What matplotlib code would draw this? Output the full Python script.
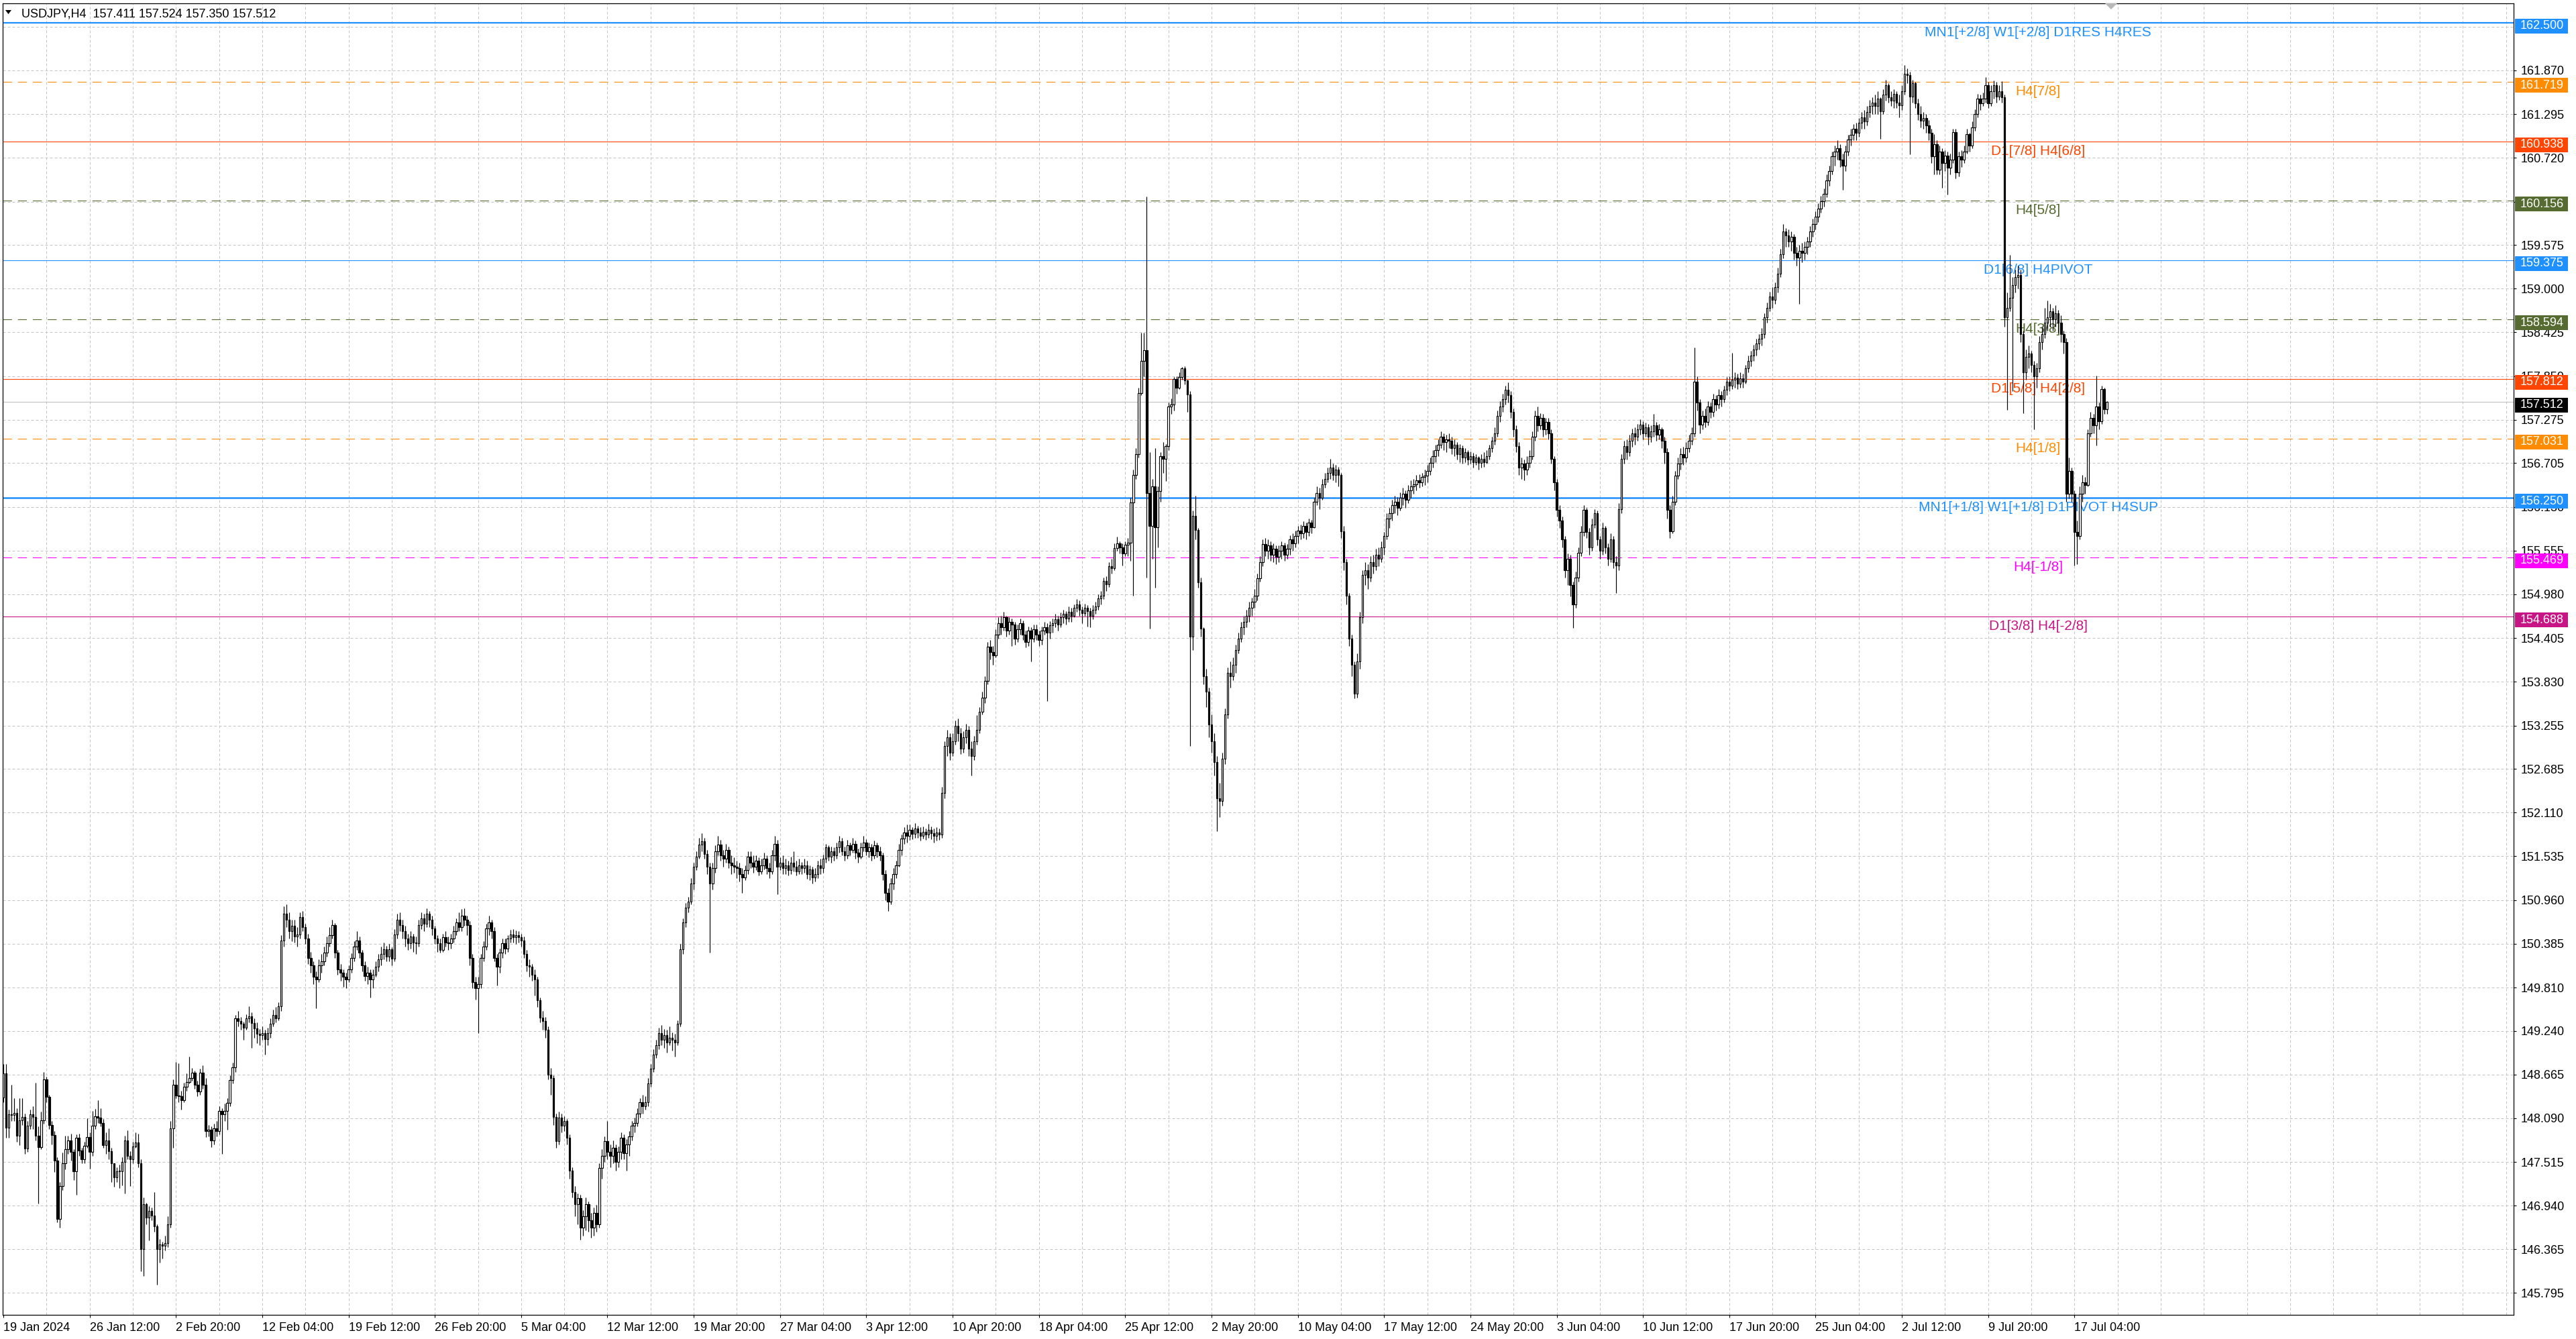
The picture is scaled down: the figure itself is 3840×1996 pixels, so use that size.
import numpy as np
import matplotlib
matplotlib.use("Agg")
import matplotlib.pyplot as plt
from matplotlib import transforms
from matplotlib.patches import Rectangle, Polygon

# USDJPY H4 candles (open of each bar = previous close)
first_open = 148.36

close = [
    148.68, 147.97, 148.14, 148.13, 148.16, 147.86, 148.06, 148.11, 147.69, 147.99, 148.14, 148.11, 147.86, 147.71, 148.06, 148.60,
    148.37, 148.00, 147.87, 147.53, 146.77, 147.20, 147.50, 147.68, 147.80, 147.65, 147.39, 147.83, 147.67, 147.55, 147.73, 147.84,
    147.65, 147.99, 148.12, 148.10, 148.03, 147.74, 147.80, 147.66, 147.50, 147.31, 147.39, 147.39, 147.52, 147.80, 147.60, 147.55,
    147.72, 147.77, 147.50, 146.37, 146.96, 146.78, 146.87, 146.81, 146.67, 146.37, 146.43, 146.41, 146.45, 146.70, 147.96, 148.53,
    148.39, 148.38, 148.33, 148.50, 148.57, 148.62, 148.69, 148.53, 148.44, 148.69, 148.53, 147.92, 147.94, 147.80, 147.96, 147.92,
    148.19, 148.14, 148.19, 148.29, 148.59, 148.76, 149.40, 149.37, 149.33, 149.28, 149.40, 149.43, 149.34, 149.27, 149.20, 149.18,
    149.21, 149.13, 149.21, 149.33, 149.45, 149.40, 149.56, 150.43, 150.78, 150.70, 150.55, 150.62, 150.48, 150.51, 150.74, 150.60,
    150.45, 150.20, 150.10, 149.95, 149.92, 150.10, 150.15, 150.27, 150.39, 150.50, 150.63, 150.27, 150.05, 150.00, 149.95, 149.92,
    150.05, 150.20, 150.35, 150.43, 150.27, 150.10, 149.96, 150.00, 149.92, 149.98, 150.08, 150.18, 150.25, 150.31, 150.22, 150.31,
    150.19, 150.51, 150.70, 150.63, 150.55, 150.45, 150.39, 150.48, 150.40, 150.39, 150.63, 150.72, 150.65, 150.78, 150.70, 150.59,
    150.45, 150.39, 150.30, 150.47, 150.40, 150.39, 150.45, 150.55, 150.67, 150.60, 150.75, 150.70, 150.63, 150.20, 149.88, 149.80,
    149.85, 150.20, 150.35, 150.59, 150.67, 150.55, 150.20, 150.08, 150.27, 150.39, 150.32, 150.45, 150.51, 150.47, 150.50, 150.47,
    150.43, 150.25, 150.10, 150.08, 149.98, 149.92, 149.64, 149.41, 149.37, 149.25, 148.66, 148.62, 148.11, 147.79, 148.10, 147.99,
    148.05, 147.83, 147.40, 147.12, 146.96, 147.04, 146.65, 146.80, 146.96, 146.75, 146.65, 146.85, 146.70, 147.44, 147.60, 147.79,
    147.65, 147.60, 147.70, 147.52, 147.65, 147.83, 147.63, 147.75, 147.85, 147.99, 148.03, 148.15, 148.30, 148.25, 148.30, 148.55,
    148.74, 148.93, 149.05, 149.21, 149.12, 149.18, 149.09, 149.15, 149.12, 149.09, 149.33, 150.31, 150.67, 150.86, 150.94, 151.18,
    151.40, 151.53, 151.69, 151.73, 151.57, 151.40, 151.18, 151.38, 151.60, 151.69, 151.55, 151.50, 151.62, 151.45, 151.42, 151.40,
    151.38, 151.30, 151.26, 151.35, 151.53, 151.45, 151.40, 151.48, 151.34, 151.42, 151.50, 151.38, 151.34, 151.55, 151.70, 151.40,
    151.45, 151.38, 151.42, 151.35, 151.45, 151.40, 151.34, 151.42, 151.38, 151.42, 151.30, 151.36, 151.26, 151.30, 151.42, 151.38,
    151.50, 151.65, 151.53, 151.60, 151.55, 151.65, 151.73, 151.60, 151.55, 151.68, 151.62, 151.70, 151.58, 151.53, 151.65, 151.72,
    151.60, 151.65, 151.55, 151.68, 151.60, 151.55, 151.30, 151.05, 150.94, 151.18, 151.30, 151.42, 151.62, 151.77, 151.85, 151.80,
    151.88, 151.83, 151.90, 151.85, 151.80, 151.86, 151.82, 151.88, 151.84, 151.80, 151.85, 151.82, 152.37, 152.99, 153.10, 152.90,
    153.05, 153.25, 153.15, 152.95, 153.10, 153.20, 152.95, 152.85, 153.05, 153.20, 153.44, 153.62, 153.84, 154.29, 154.22, 154.18,
    154.45, 154.60, 154.55, 154.68, 154.50, 154.62, 154.58, 154.40, 154.52, 154.60, 154.45, 154.35, 154.50, 154.40, 154.52, 154.45,
    154.38, 154.50, 154.55, 154.48, 154.57, 154.60, 154.65, 154.58, 154.68, 154.72, 154.66, 154.75, 154.70, 154.80, 154.85, 154.78,
    154.73, 154.80, 154.76, 154.70, 154.78, 154.82, 154.93, 154.96, 155.16, 155.11, 155.35, 155.32, 155.59, 155.65, 155.60, 155.52,
    155.63, 155.66, 156.19, 156.55, 156.82, 157.63, 158.05, 158.19, 156.31, 155.88, 156.40, 155.86, 156.34, 156.80, 156.76, 156.93,
    157.45, 157.48, 157.81, 157.70, 157.84, 157.95, 157.79, 157.61, 154.42, 156.01, 155.83, 155.14, 154.53, 153.90, 153.70, 153.27,
    153.05, 152.77, 152.30, 152.26, 152.82, 153.40, 153.95, 153.90, 154.05, 154.25, 154.40, 154.55, 154.62, 154.70, 154.80, 154.88,
    154.96, 155.19, 155.40, 155.64, 155.55, 155.62, 155.50, 155.58, 155.47, 155.55, 155.62, 155.50, 155.58, 155.70, 155.65, 155.75,
    155.82, 155.78, 155.88, 155.80, 155.92, 155.86, 156.20, 156.31, 156.25, 156.43, 156.50, 156.58, 156.65, 156.55, 156.62, 156.55,
    155.81, 155.40, 154.96, 154.40, 154.05, 153.67, 154.10, 154.68, 155.24, 155.30, 155.20, 155.40, 155.35, 155.50, 155.45, 155.60,
    155.75, 155.98, 156.05, 156.15, 156.20, 156.12, 156.25, 156.30, 156.22, 156.35, 156.40, 156.43, 156.48, 156.45, 156.52, 156.54,
    156.60, 156.71, 156.80, 156.88, 156.95, 157.05, 156.98, 157.02, 157.00, 156.90, 156.95, 156.82, 156.90, 156.78, 156.85, 156.75,
    156.80, 156.72, 156.78, 156.71, 156.76, 156.72, 156.80, 156.90, 157.00, 157.10, 157.33, 157.45, 157.55, 157.67, 157.60, 157.38,
    157.15, 156.93, 156.65, 156.70, 156.62, 156.71, 156.80, 157.05, 157.33, 157.20, 157.30, 157.15, 157.25, 157.10, 156.76, 156.45,
    156.09, 155.95, 155.70, 155.30, 155.45, 155.10, 154.85, 155.20, 155.53, 155.80, 156.09, 155.80, 155.60, 155.90, 156.05, 155.70,
    155.55, 155.85, 155.60, 155.45, 155.70, 155.40, 155.36, 156.10, 156.76, 156.93, 156.85, 157.00, 157.10, 157.05, 157.15, 157.21,
    157.10, 157.18, 157.05, 157.12, 157.20, 157.08, 157.15, 157.00, 156.85, 156.09, 155.81, 156.20, 156.54, 156.70, 156.82, 156.78,
    156.90, 157.00, 157.10, 157.78, 157.50, 157.21, 157.33, 157.25, 157.45, 157.38, 157.55, 157.48, 157.60, 157.55, 157.67, 157.78,
    157.72, 157.80, 157.83, 157.75, 157.82, 157.78, 157.95, 158.05, 158.12, 158.20, 158.28, 158.34, 158.40, 158.62, 158.75, 158.90,
    158.85, 159.02, 159.20, 159.45, 159.75, 159.70, 159.62, 159.68, 159.47, 159.41, 159.50, 159.47, 159.55, 159.62, 159.75, 159.85,
    159.95, 160.05, 160.15, 160.25, 160.42, 160.55, 160.74, 160.80, 160.85, 160.70, 160.62, 160.80, 160.96, 161.02, 161.10, 161.05,
    161.18, 161.25, 161.20, 161.32, 161.40, 161.45, 161.40, 161.50, 161.33, 161.55, 161.68, 161.52, 161.47, 161.56, 161.45, 161.41,
    161.60, 161.83, 161.81, 161.53, 161.70, 161.44, 161.30, 161.21, 161.24, 161.15, 161.05, 160.74, 160.90, 160.56, 160.80, 160.65,
    160.75, 160.59, 160.70, 161.06, 160.53, 160.74, 160.70, 160.80, 161.03, 160.88, 161.12, 161.30, 161.50, 161.44, 161.50, 161.68,
    161.44, 161.60, 161.68, 161.53, 161.60, 161.52, 158.62, 158.75, 158.88, 159.05, 159.15, 159.18, 158.40, 157.90, 158.10, 158.15,
    158.00, 157.85, 157.95, 158.30, 158.40, 158.55, 158.62, 158.70, 158.60, 158.68, 158.55, 158.40, 158.30, 156.30, 156.60, 156.30,
    155.80, 155.75, 156.30, 156.45, 156.42, 157.10, 157.30, 157.20, 157.45, 157.26, 157.68, 157.411, 157.512,
]

high = [
    148.80, 148.80, 148.20, 148.53, 148.35, 148.22, 148.35, 148.35, 148.15, 148.05, 148.20, 148.25, 148.56, 147.98, 148.18, 148.70,
    148.64, 148.40, 148.05, 147.92, 147.58, 147.25, 147.64, 147.86, 147.86, 147.89, 147.68, 147.88, 147.89, 147.70, 147.78, 148.09,
    147.90, 148.19, 148.21, 148.33, 148.22, 148.08, 147.90, 147.96, 147.70, 147.50, 147.45, 147.48, 147.58, 147.86, 147.93, 147.66,
    147.78, 147.90, 147.89, 147.55, 147.05, 146.98, 146.93, 146.92, 147.12, 146.70, 146.50, 146.47, 146.55, 146.80, 148.05, 148.60,
    148.83, 148.81, 148.45, 148.56, 148.68, 148.90, 148.75, 148.72, 148.58, 148.74, 148.79, 148.62, 148.00, 147.98, 148.02, 148.05,
    148.25, 148.22, 148.28, 148.35, 148.65, 148.82, 149.45, 149.50, 149.42, 149.36, 149.46, 149.56, 149.48, 149.40, 149.35, 149.26,
    149.30, 149.25, 149.28, 149.40, 149.52, 149.55, 149.62, 150.50, 150.88, 150.90, 150.80, 150.70, 150.70, 150.60, 150.80, 150.82,
    150.65, 150.52, 150.28, 150.15, 150.02, 150.18, 150.25, 150.35, 150.48, 150.60, 150.70, 150.66, 150.30, 150.12, 150.05, 150.00,
    150.10, 150.26, 150.42, 150.55, 150.48, 150.30, 150.15, 150.08, 150.05, 150.05, 150.15, 150.25, 150.35, 150.40, 150.36, 150.38,
    150.34, 150.58, 150.78, 150.80, 150.70, 150.62, 150.52, 150.55, 150.52, 150.48, 150.70, 150.80, 150.78, 150.85, 150.82, 150.75,
    150.62, 150.50, 150.45, 150.52, 150.55, 150.48, 150.52, 150.62, 150.72, 150.80, 150.84, 150.85, 150.75, 150.68, 150.25, 149.95,
    149.95, 150.25, 150.42, 150.65, 150.75, 150.70, 150.60, 150.25, 150.32, 150.45, 150.45, 150.50, 150.57, 150.58, 150.56, 150.55,
    150.52, 150.48, 150.30, 150.18, 150.12, 150.05, 149.95, 149.68, 149.50, 149.42, 149.30, 148.75, 148.65, 148.15, 148.18, 148.15,
    148.12, 148.08, 147.88, 147.45, 147.20, 147.10, 147.08, 146.88, 147.05, 147.00, 146.85, 146.92, 146.95, 147.50, 147.68, 147.85,
    148.05, 147.75, 147.80, 147.75, 147.72, 147.90, 147.88, 147.82, 147.92, 148.05, 148.10, 148.22, 148.35, 148.40, 148.38, 148.62,
    148.80, 149.00, 149.12, 149.28, 149.32, 149.26, 149.25, 149.30, 149.22, 149.20, 149.38, 150.38, 150.72, 150.92, 151.00, 151.25,
    151.45, 151.60, 151.78, 151.84, 151.78, 151.62, 151.45, 151.45, 151.68, 151.80, 151.75, 151.62, 151.70, 151.66, 151.55, 151.52,
    151.48, 151.45, 151.38, 151.42, 151.60, 151.60, 151.55, 151.55, 151.52, 151.50, 151.58, 151.55, 151.45, 151.62, 151.80, 151.75,
    151.52, 151.55, 151.50, 151.48, 151.53, 151.60, 151.48, 151.50, 151.46, 151.50, 151.48, 151.42, 151.40, 151.38, 151.48, 151.50,
    151.56, 151.70, 151.68, 151.66, 151.65, 151.72, 151.80, 151.78, 151.66, 151.75, 151.72, 151.78, 151.74, 151.64, 151.72, 151.80,
    151.76, 151.72, 151.70, 151.74, 151.72, 151.66, 151.58, 151.35, 151.12, 151.25, 151.38, 151.48, 151.70, 151.82, 151.92, 151.95,
    151.95, 151.92, 151.97, 151.94, 151.92, 151.93, 151.90, 151.96, 151.93, 151.90, 151.92, 151.90, 152.45, 153.05, 153.20, 153.15,
    153.15, 153.32, 153.35, 153.22, 153.18, 153.28, 153.25, 153.05, 153.12, 153.39, 153.50, 153.70, 153.90, 154.35, 154.38, 154.30,
    154.52, 154.68, 154.70, 154.75, 154.70, 154.68, 154.66, 154.62, 154.58, 154.66, 154.64, 154.50, 154.56, 154.55, 154.58, 154.58,
    154.50, 154.56, 154.62, 154.60, 154.63, 154.66, 154.72, 154.70, 154.74, 154.78, 154.76, 154.82, 154.80, 154.85, 154.92, 154.90,
    154.82, 154.86, 154.84, 154.80, 154.84, 154.88, 154.98, 155.02, 155.20, 155.22, 155.40, 155.45, 155.65, 155.74, 155.68, 155.65,
    155.68, 155.72, 156.25, 156.62, 156.90, 157.70, 158.42, 158.42, 160.21, 156.85, 156.50, 156.90, 156.40, 156.85, 156.98, 156.96,
    157.50, 157.56, 157.84, 157.85, 157.90, 157.97, 157.98, 157.80, 157.65, 156.08, 156.28, 155.85, 155.20, 154.55, 154.00, 153.75,
    153.40, 153.15, 152.85, 152.50, 152.90, 153.48, 154.02, 154.10, 154.15, 154.32, 154.48, 154.62, 154.70, 154.78, 154.88, 154.94,
    155.05, 155.25, 155.48, 155.70, 155.72, 155.70, 155.68, 155.65, 155.62, 155.62, 155.68, 155.66, 155.64, 155.76, 155.78, 155.82,
    155.88, 155.90, 155.94, 155.92, 155.98, 155.96, 156.25, 156.40, 156.38, 156.50, 156.58, 156.65, 156.76, 156.70, 156.68, 156.66,
    156.58, 155.88, 155.45, 155.00, 154.45, 154.10, 154.20, 154.75, 155.30, 155.40, 155.38, 155.48, 155.50, 155.58, 155.60, 155.68,
    155.80, 156.05, 156.12, 156.22, 156.28, 156.26, 156.32, 156.38, 156.35, 156.42, 156.48, 156.50, 156.55, 156.56, 156.58, 156.62,
    156.68, 156.78, 156.88, 156.95, 157.02, 157.12, 157.10, 157.08, 157.10, 157.05, 157.02, 156.98, 156.96, 156.94, 156.90, 156.88,
    156.86, 156.84, 156.82, 156.80, 156.82, 156.85, 156.88, 156.95, 157.05, 157.18, 157.40, 157.52, 157.62, 157.72, 157.77, 157.65,
    157.42, 157.20, 156.98, 156.78, 156.75, 156.80, 156.88, 157.12, 157.40, 157.45, 157.36, 157.35, 157.30, 157.30, 157.15, 156.80,
    156.50, 156.15, 156.00, 155.75, 155.52, 155.50, 155.15, 155.28, 155.60, 155.88, 156.15, 156.12, 155.85, 155.98, 156.10, 156.08,
    155.75, 155.92, 155.88, 155.65, 155.78, 155.75, 155.48, 156.18, 156.82, 157.00, 157.02, 157.08, 157.16, 157.18, 157.22, 157.28,
    157.26, 157.24, 157.22, 157.20, 157.35, 157.25, 157.22, 157.18, 157.05, 156.90, 156.15, 156.28, 156.60, 156.78, 156.90, 156.92,
    156.98, 157.08, 157.18, 158.23, 157.85, 157.55, 157.40, 157.42, 157.52, 157.50, 157.62, 157.60, 157.68, 157.65, 157.72, 157.84,
    157.85, 158.16, 157.90, 157.88, 157.90, 157.88, 158.00, 158.12, 158.18, 158.26, 158.34, 158.40, 158.48, 158.68, 158.82, 158.96,
    159.02, 159.08, 159.28, 159.52, 159.85, 159.80, 159.78, 159.75, 159.72, 159.55, 159.58, 159.60, 159.62, 159.68, 159.82, 159.92,
    160.02, 160.12, 160.22, 160.32, 160.50, 160.62, 160.80, 160.88, 160.95, 160.90, 160.78, 160.88, 161.02, 161.10, 161.16, 161.18,
    161.24, 161.32, 161.35, 161.40, 161.48, 161.52, 161.55, 161.60, 161.52, 161.62, 161.75, 161.70, 161.60, 161.62, 161.60, 161.55,
    161.68, 161.94, 161.90, 161.85, 161.75, 161.72, 161.50, 161.40, 161.32, 161.30, 161.22, 161.10, 161.03, 160.95, 160.88, 160.85,
    160.82, 160.80, 160.78, 161.10, 161.10, 160.80, 160.82, 160.88, 161.10, 161.05, 161.20, 161.36, 161.56, 161.55, 161.58, 161.78,
    161.72, 161.68, 161.74, 161.72, 161.68, 161.73, 161.55, 158.95, 159.44, 159.15, 159.25, 159.30, 159.25, 158.45, 158.20, 158.25,
    158.18, 158.05, 158.02, 158.38, 158.50, 158.75, 158.84, 158.80, 158.75, 158.78, 158.72, 158.65, 158.45, 158.35, 156.78, 156.65,
    156.35, 155.95, 156.40, 156.55, 156.52, 157.15, 157.38, 157.35, 157.86, 157.50, 157.72, 157.70, 157.524,
]

low = [
    148.30, 147.83, 147.83, 148.05, 148.05, 147.78, 147.74, 148.00, 147.62, 147.65, 147.95, 147.95, 147.80, 146.97, 147.68, 148.02,
    148.30, 147.95, 147.75, 147.38, 146.72, 146.65, 147.15, 147.42, 147.62, 147.53, 147.28, 147.08, 147.60, 147.50, 147.50, 147.70,
    147.43, 147.60, 147.95, 148.03, 147.98, 147.70, 147.62, 147.55, 147.25, 147.19, 147.25, 147.17, 147.21, 147.10, 147.55, 147.20,
    147.50, 147.70, 147.45, 146.08, 146.02, 146.70, 146.48, 146.75, 146.60, 145.90, 146.19, 146.25, 146.35, 146.40, 146.65, 147.70,
    148.35, 148.30, 148.20, 148.30, 148.45, 148.55, 148.58, 148.48, 148.38, 148.40, 148.48, 147.84, 147.85, 147.71, 147.75, 147.85,
    147.88, 147.62, 148.05, 147.94, 148.25, 148.55, 148.70, 149.30, 149.25, 149.12, 149.25, 149.35, 149.02, 149.15, 149.08, 149.05,
    149.12, 148.93, 149.05, 149.15, 149.30, 149.35, 149.38, 149.50, 150.35, 150.60, 150.45, 150.42, 150.40, 150.35, 150.45, 150.55,
    150.38, 150.12, 150.00, 149.85, 149.54, 149.88, 150.00, 150.10, 150.22, 150.35, 150.45, 150.20, 149.98, 149.90, 149.82, 149.80,
    149.88, 150.00, 150.15, 150.30, 150.20, 150.02, 149.90, 149.85, 149.68, 149.80, 149.95, 150.02, 150.10, 150.18, 150.15, 150.15,
    150.10, 150.15, 150.45, 150.55, 150.45, 150.35, 150.30, 150.32, 150.28, 150.25, 150.35, 150.58, 150.55, 150.60, 150.60, 150.50,
    150.38, 150.28, 150.27, 150.28, 150.35, 150.30, 150.32, 150.40, 150.50, 150.55, 150.55, 150.62, 150.50, 150.10, 149.80, 149.65,
    149.21, 149.80, 150.15, 150.30, 150.50, 150.45, 150.15, 149.84, 150.00, 150.20, 150.25, 150.28, 150.40, 150.40, 150.38, 150.40,
    150.35, 150.20, 150.02, 149.95, 149.90, 149.70, 149.55, 149.35, 149.25, 149.15, 148.60, 148.40, 148.00, 147.70, 147.75, 147.90,
    147.92, 147.75, 147.30, 147.05, 146.80, 146.70, 146.49, 146.55, 146.62, 146.60, 146.52, 146.55, 146.60, 146.65, 147.30, 147.52,
    147.55, 147.45, 147.50, 147.40, 147.45, 147.55, 147.55, 147.40, 147.60, 147.80, 147.90, 147.98, 148.10, 148.15, 148.20, 148.25,
    148.50, 148.70, 148.88, 149.00, 149.05, 149.02, 148.95, 149.05, 148.98, 148.90, 149.05, 149.30, 150.25, 150.60, 150.80, 150.90,
    151.10, 151.35, 151.50, 151.60, 151.50, 151.30, 150.27, 151.10, 151.32, 151.55, 151.48, 151.40, 151.45, 151.38, 151.30, 151.32,
    151.25, 151.20, 151.05, 151.22, 151.30, 151.38, 151.32, 151.35, 151.28, 151.30, 151.36, 151.30, 151.25, 151.30, 151.48, 151.04,
    151.35, 151.30, 151.30, 151.28, 151.30, 151.34, 151.28, 151.30, 151.30, 151.32, 151.24, 151.22, 151.18, 151.20, 151.25, 151.30,
    151.32, 151.45, 151.48, 151.45, 151.48, 151.50, 151.58, 151.55, 151.48, 151.50, 151.55, 151.58, 151.50, 151.45, 151.50, 151.60,
    151.55, 151.52, 151.48, 151.50, 151.52, 151.48, 151.22, 150.96, 150.82, 150.90, 151.10, 151.25, 151.40, 151.55, 151.70, 151.72,
    151.75, 151.76, 151.78, 151.78, 151.74, 151.77, 151.75, 151.78, 151.76, 151.72, 151.74, 151.75, 151.78, 152.30, 152.85, 152.80,
    152.85, 153.00, 153.05, 152.88, 152.90, 153.02, 152.85, 152.60, 152.80, 153.00, 153.15, 153.40, 153.55, 153.80, 154.12, 154.05,
    154.15, 154.40, 154.45, 154.50, 154.42, 154.45, 154.30, 154.32, 154.35, 154.45, 154.38, 154.28, 154.30, 154.10, 154.35, 154.38,
    154.30, 154.32, 154.45, 153.58, 154.40, 154.48, 154.55, 154.50, 154.55, 154.60, 154.58, 154.62, 154.62, 154.68, 154.75, 154.70,
    154.60, 154.70, 154.56, 154.55, 154.65, 154.72, 154.78, 154.85, 154.92, 155.02, 155.08, 155.25, 155.30, 155.55, 155.52, 155.36,
    155.48, 155.48, 155.42, 154.96, 156.50, 156.78, 157.60, 157.85, 155.20, 154.53, 155.45, 155.07, 155.60, 156.20, 156.58, 156.47,
    156.88, 157.35, 157.40, 157.62, 157.68, 157.80, 157.74, 157.38, 152.99, 154.25, 155.70, 155.07, 154.42, 153.80, 153.50, 153.10,
    152.90, 152.60, 151.87, 152.05, 152.20, 152.75, 153.35, 153.75, 153.85, 153.95, 154.20, 154.35, 154.45, 154.55, 154.62, 154.70,
    154.80, 154.90, 155.15, 155.35, 155.48, 155.45, 155.42, 155.40, 155.38, 155.40, 155.45, 155.42, 155.45, 155.50, 155.55, 155.60,
    155.65, 155.70, 155.72, 155.70, 155.75, 155.78, 155.85, 156.15, 156.10, 156.22, 156.38, 156.45, 156.50, 156.48, 156.45, 156.40,
    155.72, 155.30, 154.85, 154.30, 153.90, 153.61, 153.62, 154.00, 154.60, 155.10, 155.05, 155.15, 155.25, 155.30, 155.35, 155.40,
    155.50, 155.70, 155.85, 155.95, 156.05, 156.02, 156.08, 156.15, 156.12, 156.18, 156.25, 156.30, 156.35, 156.38, 156.40, 156.42,
    156.45, 156.55, 156.65, 156.72, 156.80, 156.90, 156.88, 156.85, 156.90, 156.82, 156.80, 156.75, 156.72, 156.70, 156.72, 156.68,
    156.70, 156.65, 156.68, 156.62, 156.65, 156.66, 156.70, 156.75, 156.85, 156.95, 157.05, 157.25, 157.38, 157.48, 157.50, 157.30,
    157.05, 156.85, 156.55, 156.50, 156.48, 156.55, 156.65, 156.75, 157.00, 157.12, 157.15, 157.05, 157.08, 157.02, 156.70, 156.35,
    156.00, 155.85, 155.60, 155.20, 155.10, 154.95, 154.54, 154.80, 155.15, 155.48, 155.75, 155.72, 155.50, 155.55, 155.85, 155.62,
    155.45, 155.50, 155.52, 155.36, 155.40, 155.32, 155.00, 155.30, 156.05, 156.70, 156.75, 156.80, 156.92, 156.95, 157.00, 157.08,
    157.02, 157.05, 156.95, 156.98, 157.05, 157.00, 157.02, 156.90, 156.70, 155.98, 155.72, 155.78, 156.15, 156.50, 156.62, 156.68,
    156.72, 156.85, 156.95, 157.05, 157.40, 157.10, 157.15, 157.18, 157.20, 157.30, 157.32, 157.40, 157.42, 157.45, 157.50, 157.60,
    157.65, 157.68, 157.70, 157.68, 157.70, 157.70, 157.75, 157.90, 157.98, 158.05, 158.12, 158.20, 158.25, 158.35, 158.55, 158.70,
    158.75, 158.80, 158.95, 159.15, 159.40, 159.55, 159.55, 159.50, 159.38, 159.30, 158.80, 159.35, 159.38, 159.45, 159.55, 159.68,
    159.78, 159.88, 160.00, 160.08, 160.20, 160.35, 160.50, 160.62, 160.70, 160.60, 160.30, 160.55, 160.75, 160.88, 160.95, 160.95,
    161.00, 161.10, 161.10, 161.15, 161.25, 161.30, 161.30, 161.30, 160.97, 161.30, 161.47, 161.45, 161.40, 161.38, 161.38, 161.25,
    161.35, 161.55, 161.70, 160.77, 161.45, 161.38, 161.22, 161.12, 161.10, 161.05, 160.95, 160.65, 160.50, 160.50, 160.50, 160.33,
    160.55, 160.24, 160.50, 160.65, 160.45, 160.48, 160.60, 160.65, 160.78, 160.80, 160.85, 161.08, 161.25, 161.35, 161.40, 161.45,
    161.38, 161.40, 161.50, 161.45, 161.48, 161.45, 158.50, 157.41, 158.70, 157.65, 158.95, 159.00, 158.30, 157.36, 157.80, 157.95,
    157.90, 157.15, 157.70, 157.90, 158.20, 158.35, 158.45, 158.50, 158.45, 158.50, 158.42, 158.30, 158.15, 156.20, 156.24, 156.20,
    155.36, 155.38, 155.70, 156.20, 156.30, 156.40, 157.05, 157.10, 156.94, 157.15, 157.22, 157.35, 157.350,
]

date_labels = ["19 Jan 2024", "26 Jan 12:00", "2 Feb 20:00", "12 Feb 04:00", "19 Feb 12:00",
               "26 Feb 20:00", "5 Mar 04:00", "12 Mar 12:00", "19 Mar 20:00", "27 Mar 04:00",
               "3 Apr 12:00", "10 Apr 20:00", "18 Apr 04:00", "25 Apr 12:00", "2 May 20:00",
               "10 May 04:00", "17 May 12:00", "24 May 20:00", "3 Jun 04:00", "10 Jun 12:00",
               "17 Jun 20:00", "25 Jun 04:00", "2 Jul 12:00", "9 Jul 20:00", "17 Jul 04:00"]
bars_per_label = 32

price_ticks = [161.870, 161.295, 160.720, 160.145, 159.575, 159.000, 158.425, 157.850,
               157.275, 156.705, 156.130, 155.555, 154.980, 154.405, 153.830, 153.255,
               152.685, 152.110, 151.535, 150.960, 150.385, 149.810, 149.240, 148.665,
               148.090, 147.515, 146.940, 146.365, 145.795]
top_grid = 162.445

level_prices = [162.500, 161.719, 160.938, 160.156, 159.375, 158.594,
                157.812, 157.031, 156.250, 155.469, 154.688]
level_names = ["MN1[+2/8] W1[+2/8] D1RES H4RES", "H4[7/8]", "D1[7/8] H4[6/8]", "H4[5/8]",
               "D1[6/8] H4PIVOT", "H4[3/8]", "D1[5/8] H4[2/8]", "H4[1/8]",
               "MN1[+1/8] W1[+1/8] D1PIVOT H4SUP", "H4[-1/8]", "D1[3/8] H4[-2/8]"]
last_price = 157.512
title = "USDJPY,H4  157.411 157.524 157.350 157.512"

# styles for the levels
level_colors = ["#1E90FF", "#FF8C00", "#FF4500", "#556B2F", "#1E90FF", "#556B2F",
                "#FF4500", "#FF8C00", "#1E90FF", "#FF00FF", "#C71585"]
level_dashed = [False, True, False, True, False, True, False, True, False, True, False]
level_lw = [1.6, 0.8, 0.8, 0.8, 0.8, 0.8, 0.8, 0.8, 1.8, 0.8, 0.8]

plt.rcParams['font.family'] = ['Liberation Sans', 'DejaVu Sans']

W, H = 3840, 1996
fig = plt.figure(figsize=(W / 100, H / 100), dpi=100)
fig.patch.set_facecolor('white')
ax = fig.add_axes([4 / W, 1 - 1960 / H, (3747 - 4) / W, (1960 - 5) / H])

px_bar = 4.02       # pixels per bar
px_yen = 113.35     # pixels per yen
ax.set_xlim(-0.25, -0.25 + 3743 / px_bar)
ax.set_ylim(161.870 - (1960 - 105) / px_yen, 161.870 + 100 / px_yen)

c = np.array(close)
o = np.r_[first_open, c[:-1]]
hi = np.maximum(np.array(high), np.maximum(o, c))
lo = np.minimum(np.array(low), np.minimum(o, c))
x = np.arange(len(c))

# grid
grid_kw = dict(color='#c4c4c4', lw=0.72, ls=(0, (4, 3)), zorder=1)
for p in price_ticks + [top_grid]:
    ax.axhline(p, **grid_kw)
for b in range(16, 931, 16):
    ax.axvline(b, **grid_kw)

# levels
for p, name, col, dsh, lw in zip(level_prices, level_names, level_colors, level_dashed, level_lw):
    ax.axhline(p, color=col, lw=lw, ls=(0, (12, 8)) if dsh else '-', zorder=2)
    ax.annotate(name, xy=(754.5, p), xytext=(0, -14.4), textcoords='offset points',
                ha='center', va='baseline', color=col, fontsize=15, zorder=3)
ax.axhline(last_price, color='#c0c0c0', lw=0.8, zorder=2)

# candles
ax.vlines(x, lo, hi, color='black', lw=0.85, zorder=5)
up = c >= o
ax.bar(x, np.maximum(np.abs(c - o), 0.012), bottom=np.minimum(o, c), width=0.62,
       color=np.where(up, 'white', 'black'), edgecolor='black', linewidth=0.85, zorder=6)

# axes look
for s in ax.spines.values():
    s.set_color('black')
    s.set_linewidth(0.9)
ax.yaxis.tick_right()
ax.set_yticks(price_ticks)
ax.set_yticklabels([f"{p:.3f}" for p in price_ticks])
ax.tick_params(axis='y', length=3, width=0.8, pad=4.5, labelsize=13, colors='black')
ax.set_xticks(range(0, bars_per_label * len(date_labels), bars_per_label))
ax.set_xticklabels(date_labels, ha='left')
ax.tick_params(axis='x', length=3, width=0.8, pad=5, labelsize=13, colors='black')

# price tags on the right scale
tr = transforms.blended_transform_factory(fig.transFigure, ax.transData)
tag_prices = level_prices + [last_price]
tag_colors = level_colors + ['black']
for p, col in zip(tag_prices, tag_colors):
    ax.add_patch(Rectangle((3749 / W, p - 16 / px_yen), 79 / W, 22 / px_yen, transform=tr,
                           facecolor=col, edgecolor='none', clip_on=False, zorder=10))
    ax.text(3757 / W, p - 5 / px_yen, f"{p:.3f}", transform=tr, color='white', fontsize=13,
            ha='left', va='center', clip_on=False, zorder=11)

# header
fig.text(32 / W, 1 - 26 / H, title, fontsize=13, va='baseline', ha='left')
fig.patches.append(Polygon([[8 / W, 1 - 15 / H], [17 / W, 1 - 15 / H], [12.5 / W, 1 - 21 / H]],
                           closed=True, transform=fig.transFigure, facecolor='black', edgecolor='none'))
# chart shift marker
fig.patches.append(Polygon([[3138 / W, 1 - 5 / H], [3156 / W, 1 - 5 / H], [3147 / W, 1 - 14 / H]],
                           closed=True, transform=fig.transFigure, facecolor='#b8b8b8', edgecolor='none'))

fig.savefig("out.png", dpi=100)
